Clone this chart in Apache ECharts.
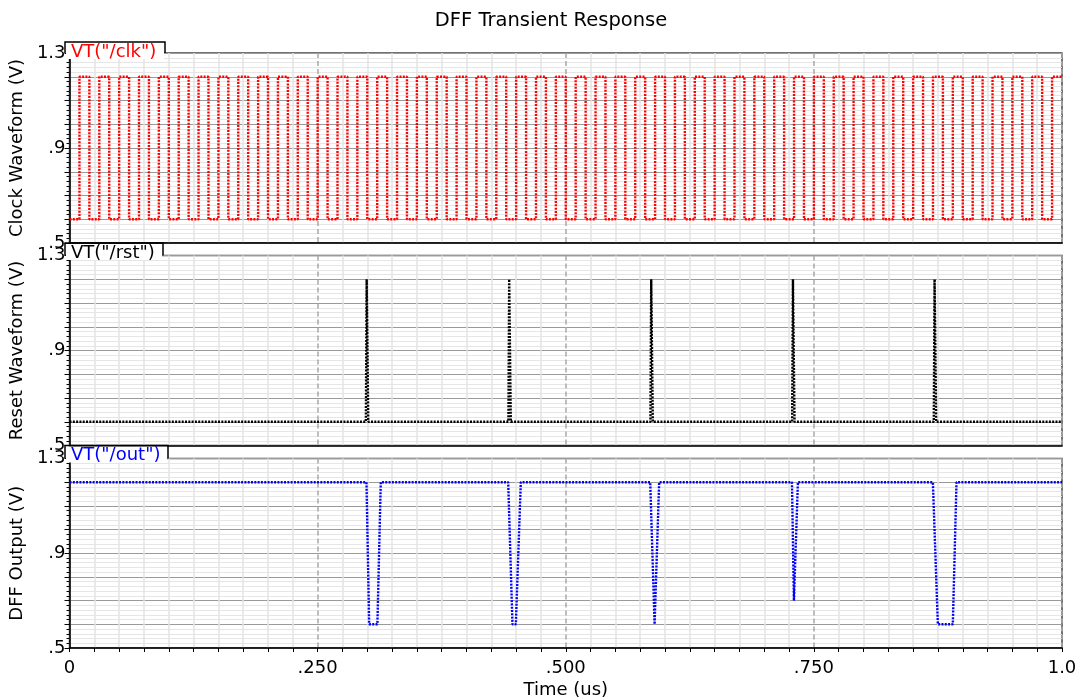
<!DOCTYPE html>
<html>
<head>
<meta charset="utf-8">
<script src="https://cdn.jsdelivr.net/npm/echarts@6/dist/echarts.min.js"></script>
<style>
html,body{margin:0;padding:0;background:#fff;}
#chart{width:1083px;height:700px;}
</style>
</head>
<body>
<div id="chart"></div>
<script>
// ---- Data ----
const chartTitle = 'DFF Transient Response';
const xTickLabels = ['0', '.250', '.500', '.750', '1.0'];
const yTickValues = [0.5, 0.9, 1.3];
const yTickLabels = ['.5', '.9', '1.3'];
const panelNames = ['Clock Waveform (V)', 'Reset Waveform (V)', 'DFF Output (V)'];
const traceNames = ['VT("/clk")', 'VT("/rst")', 'VT("/out")'];

// clock (V levels and edge times in us)
const clkLow = 0.6, clkHigh = 1.2;
const clkRise = [0.01,0.03,0.05,0.07,0.09,0.11,0.13,0.15,0.17,0.19,
                 0.21,0.23,0.25,0.27,0.29,0.31,0.33,0.35,0.37,0.39,
                 0.41,0.43,0.45,0.47,0.49,0.51,0.53,0.55,0.57,0.59,
                 0.61,0.63,0.65,0.67,0.69,0.71,0.73,0.75,0.77,0.79,
                 0.81,0.83,0.85,0.87,0.89,0.91,0.93,0.95,0.97,0.99];
const clkFall = [0.02,0.04,0.06,0.08,0.10,0.12,0.14,0.16,0.18,0.20,
                 0.22,0.24,0.26,0.28,0.30,0.32,0.34,0.36,0.38,0.40,
                 0.42,0.44,0.46,0.48,0.50,0.52,0.54,0.56,0.58,0.60,
                 0.62,0.64,0.66,0.68,0.70,0.72,0.74,0.76,0.78,0.80,
                 0.82,0.84,0.86,0.88,0.90,0.92,0.94,0.96,0.98];

// reset pulses
const rstLow = 0.6, rstHigh = 1.2;
const rstPulseStart = [0.2986, 0.4422, 0.5853, 0.7281, 0.8708];
const rstEdge = 0.0008;   // rise / hold / fall durations (us)

// output waveform
const outTime  = [0, 0.2992, 0.3019, 0.3102, 0.3136,
                  0.4420, 0.4463, 0.4497, 0.4547,
                  0.5851, 0.5895, 0.5941,
                  0.7279, 0.7299, 0.7339,
                  0.8699, 0.8749, 0.8900, 0.8937, 1.0];
const outValue = [1.2, 1.2, 0.6, 0.6, 1.2,
                  1.2, 0.6, 0.6, 1.2,
                  1.2, 0.6, 1.2,
                  1.2, 0.7, 1.2,
                  1.2, 0.6, 0.6, 1.2, 1.2];

// ---- Build point tables ----
const clkData = [[0, clkLow]];
for (let i = 0; i < clkRise.length; i++) {
  clkData.push([clkRise[i], clkLow], [clkRise[i], clkHigh]);
  if (i < clkFall.length) clkData.push([clkFall[i], clkHigh], [clkFall[i], clkLow]);
}
clkData.push([1.0, clkHigh]);

const rstData = [[0, rstLow]];
rstPulseStart.forEach(t => {
  rstData.push([t, rstLow], [t + rstEdge, rstHigh], [t + 2 * rstEdge, rstHigh], [t + 3 * rstEdge, rstLow]);
});
rstData.push([1.0, rstLow]);

const outData = outTime.map((t, i) => [t, outValue[i]]);

// ---- Layout ----
const FONT = 'DejaVu Sans';
const plotLeft = 65, plotWidth = 997;
const panels = [
  {top: 53,    height: 190, tabTop: 42,  tabRight: 165, color: '#ff0000'},
  {top: 255.5, height: 190, tabTop: 243, tabRight: 163, color: '#000000'},
  {top: 458.5, height: 190, tabTop: 445.5, tabRight: 168, color: '#0000ff'}
];

const grids = [], xAxes = [], yAxes = [], series = [], graphics = [];
const datas = [clkData, rstData, outData];

panels.forEach((p, i) => {
  const last = i === panels.length - 1;
  grids.push({left: plotLeft, width: plotWidth, top: p.top, height: p.height,
    show: true, borderColor: '#454545', borderWidth: 1.5, backgroundColor: '#fff'});
  xAxes.push({
    gridIndex: i, type: 'value', min: 0, max: 1, interval: 0.25,
    name: last ? 'Time (us)' : '', nameLocation: 'middle', nameGap: 33,
    nameTextStyle: {fontFamily: FONT, fontSize: 18, color: '#000'},
    axisLine: {show: true, onZero: false, lineStyle: {color: '#000', width: 1.5}},
    axisTick: {show: last, length: 4, lineStyle: {color: '#000'}},
    minorTick: {show: last, splitNumber: 10, length: 4, lineStyle: {color: '#000'}},
    axisLabel: {show: last, margin: 11, fontFamily: FONT, fontSize: 18, color: '#000',
      formatter: v => xTickLabels[Math.round(v / 0.25)]},
    splitLine: {show: true, lineStyle: {color: '#a8a8a8', width: 1.5, type: [5, 3]}},
    minorSplitLine: {show: true, lineStyle: {color: '#e4e4e4', width: 1.5}}
  });
  yAxes.push({
    gridIndex: i, type: 'value', min: 0.5, max: 1.3, interval: 0.1,
    name: panelNames[i], nameLocation: 'middle', nameGap: 37, nameRotate: 90,
    nameTextStyle: {fontFamily: FONT, fontSize: 18, color: '#000'},
    axisLine: {show: true, lineStyle: {color: '#000', width: 1.5}},
    axisTick: {show: true, length: 5, lineStyle: {color: '#000'}},
    minorTick: {show: true, splitNumber: 5, length: 3, lineStyle: {color: '#000'}},
    axisLabel: {show: true, margin: 4, fontFamily: FONT, fontSize: 18, color: '#000',
      showMinLabel: true, showMaxLabel: true,
      formatter: v => {
        const k = yTickValues.findIndex(t => Math.abs(t - v) < 1e-6);
        return k >= 0 ? yTickLabels[k] : '';
      }},
    splitLine: {show: true, lineStyle: {color: '#9a9a9a', width: 1}},
    minorSplitLine: {show: true, lineStyle: {color: '#e6e6e6', width: 1}}
  });
  series.push({
    type: 'line', xAxisIndex: i, yAxisIndex: i, data: datas[i],
    showSymbol: false, silent: true, z: 5,
    lineStyle: {color: p.color, width: 2.4, type: [2, 1.3], cap: 'butt'},
    emphasis: {disabled: true}
  });
  // trace name tab
  graphics.push({
    type: 'rect', z: 100,
    shape: {x: plotLeft + 1, y: p.tabTop + 1, width: p.tabRight - plotLeft - 2, height: 16},
    style: {fill: '#fff'}
  });
  graphics.push({
    type: 'polyline', z: 101,
    shape: {points: [[plotLeft, p.top], [plotLeft, p.tabTop], [p.tabRight, p.tabTop], [p.tabRight, p.top]]},
    style: {stroke: '#000', lineWidth: 1.5, fill: null}
  });
  graphics.push({
    type: 'text', z: 102, x: plotLeft + 6, y: p.tabTop + 10,
    style: {text: traceNames[i], fill: p.color, font: '18px "DejaVu Sans"',
      textAlign: 'left', textVerticalAlign: 'middle'}
  });
});

const chart = echarts.init(document.getElementById('chart'), null, {renderer: 'canvas'});
chart.setOption({
  animation: false,
  backgroundColor: '#fff',
  title: {text: chartTitle, left: 546, top: 6, textAlign: 'center',
    textStyle: {fontFamily: FONT, fontSize: 19.5, fontWeight: 'normal', color: '#000'}},
  grid: grids, xAxis: xAxes, yAxis: yAxes, series: series,
  graphic: graphics
});
</script>
</body>
</html>
